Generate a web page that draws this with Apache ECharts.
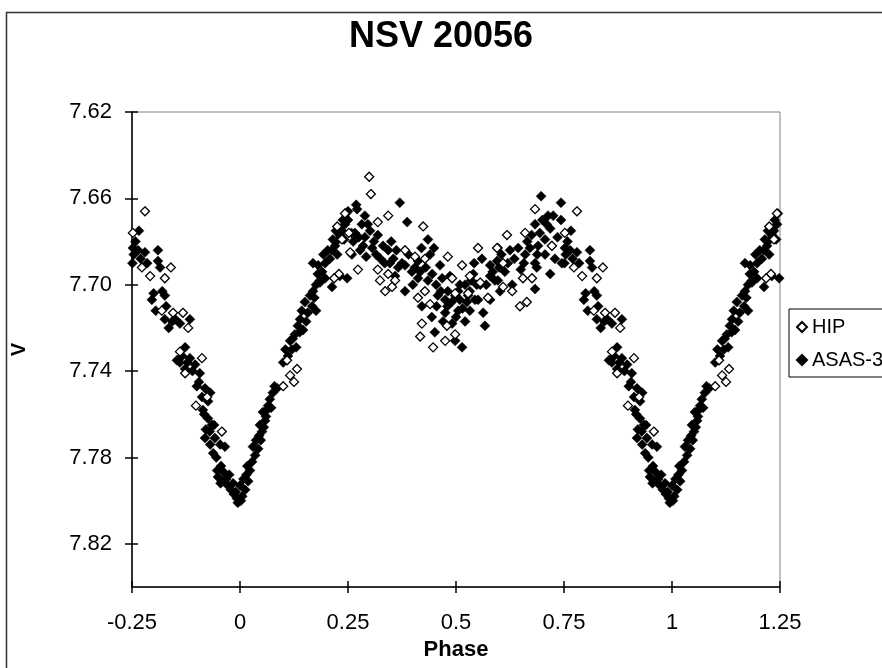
<!DOCTYPE html>
<html>
<head>
<meta charset="utf-8">
<script src="https://cdn.jsdelivr.net/npm/echarts@6/dist/echarts.min.js"></script>
<style>
html,body{margin:0;padding:0;background:#fff;}
#chart{width:882px;height:668px;}
</style>
</head>
<body>
<div id="chart"></div>
<script>
// ---- data (phase in [0,1), V magnitude) ----
const titleText = "NSV 20056";
const xTitle = "Phase";
const yTitle = "V";
const seriesNames = ["HIP", "ASAS-3"];
const xTicks = [-0.25, 0, 0.25, 0.5, 0.75, 1, 1.25];
const yTicks = [7.62, 7.66, 7.70, 7.74, 7.78, 7.82];

const hipPhase = [0.780,0.752,0.773,0.792,0.826,0.840,0.819,0.845,0.868,0.880,0.861,0.873,0.912,0.924,0.898,0.958,
  0.100,0.116,0.125,0.132,0.109,0.243,0.225,0.252,0.236,0.255,0.229,0.218,
  0.299,0.303,0.343,0.319,0.424,0.382,0.405,0.428,0.481,0.273,0.319,0.324,0.352,0.359,0.343,0.336,0.428,0.412,0.440,0.491,0.498,
  0.421,0.417,0.447,0.475,0.479,0.498,0.528,0.574,0.551,0.595,0.556,0.609,0.630,0.655,0.676,0.609,0.722,0.618,0.660,0.683,0.648,0.664,0.514,0.532];
const hipV = [7.666,7.676,7.692,7.696,7.697,7.692,7.712,7.713,7.713,7.720,7.731,7.741,7.734,7.752,7.756,7.768,
  7.747,7.742,7.745,7.739,7.735,7.667,7.673,7.676,7.679,7.685,7.695,7.697,
  7.650,7.658,7.668,7.671,7.673,7.684,7.687,7.688,7.687,7.693,7.693,7.698,7.701,7.698,7.695,7.703,7.703,7.706,7.709,7.697,7.704,
  7.718,7.724,7.729,7.726,7.719,7.723,7.704,7.706,7.683,7.683,7.699,7.701,7.703,7.697,7.697,7.690,7.682,7.677,7.676,7.665,7.710,7.708,7.691,7.696];

const asasPhase = [
  0.949,0.958,0.968,0.972,0.979,0.986,0.993,0.995,0.005,0.012,0.000,0.984,0.963,0.947,0.956,
  0.019,0.023,0.028,0.017,0.035,0.042,0.037,0.051,0.046,0.058,0.053,0.065,0.069,0.076,0.060,0.044,0.086,
  0.100,0.111,0.120,0.130,0.116,0.127,0.134,0.139,0.146,0.153,0.157,0.167,0.176,0.162,0.169,0.176,0.185,0.190,0.181,0.197,0.208,
  0.213,0.220,0.227,0.231,0.236,0.243,0.250,0.222,0.241,0.169,0.197,0.185,0.213,0.231,0.248,
  0.269,0.370,0.387,0.271,0.258,0.282,0.266,0.289,0.301,0.319,0.331,0.306,0.278,0.292,0.259,0.315,0.343,0.347,0.366,0.382,0.398,
  0.412,0.359,0.382,0.435,0.449,0.440,0.417,0.435,0.454,0.468,0.481,0.498,0.509,0.458,0.475,0.421,0.444,0.451,0.491,0.498,0.514,
  0.532,0.544,0.556,0.579,0.567,0.590,0.412,0.463,0.486,0.521,0.505,0.475,0.250,0.289,
  0.521,0.532,0.528,0.542,0.560,0.579,0.595,0.597,0.579,0.597,0.613,0.630,0.602,0.625,0.644,0.660,0.671,0.657,0.683,0.683,
  0.694,0.706,0.718,0.690,0.713,0.697,0.743,0.743,0.706,0.729,0.745,0.718,0.683,0.687,0.509,0.551,0.563,
  0.766,0.752,0.764,0.780,0.754,0.751,0.810,0.810,0.815,0.796,0.826,0.829,0.826,0.843,0.861,0.884,0.873,0.861,0.884,0.896,
  0.907,0.854,0.873,0.900,0.919,0.931,0.914,0.926,0.935,0.921,0.942,0.919,0.931,0.954,0.965,0.938,0.926,
  0.955,0.975,0.990,0.002,0.008,0.015,0.030,0.048,0.055,0.062,0.072,0.080,0.105,0.122,0.138,0.143,0.150,0.172,0.180,0.193,
  0.203,0.215,0.225,0.238,0.245,0.262,0.275,0.285,0.296,0.310,0.325,0.335,0.350,0.355,0.362,0.375,0.390,0.400,0.405,0.420,
  0.430,0.445,0.455,0.465,0.470,0.480,0.490,0.500,0.505,0.515,0.525,0.535,0.540,0.548,0.570,0.585,0.600,0.605,0.620,0.635,
  0.650,0.665,0.675,0.688,0.700,0.710,0.722,0.735,0.725,0.758,0.770,0.785,0.800,0.805,0.835,0.850,0.820,0.866,0.878,0.890,
  0.905,0.912,0.917,0.930,0.940,0.945];
const asasV = [
  7.789,7.791,7.790,7.793,7.795,7.797,7.799,7.801,7.798,7.795,7.793,7.792,7.787,7.786,7.784,
  7.791,7.786,7.782,7.784,7.779,7.776,7.772,7.768,7.765,7.763,7.759,7.756,7.753,7.750,7.761,7.770,7.748,
  7.736,7.733,7.730,7.729,7.726,7.723,7.719,7.716,7.721,7.717,7.713,7.710,7.712,7.705,7.703,7.700,7.698,7.694,7.691,7.690,7.688,
  7.684,7.682,7.679,7.677,7.675,7.672,7.670,7.675,7.679,7.690,7.697,7.699,7.701,7.696,7.697,
  7.663,7.662,7.671,7.665,7.676,7.672,7.676,7.678,7.675,7.677,7.682,7.683,7.684,7.687,7.686,7.686,7.684,7.690,7.692,7.691,7.694,
  7.697,7.696,7.703,7.679,7.683,7.686,7.694,7.698,7.700,7.697,7.703,7.705,7.707,7.705,7.707,7.710,7.715,7.722,7.718,7.726,7.729,
  7.703,7.707,7.700,7.707,7.719,7.698,7.689,7.691,7.696,7.700,7.712,7.713,7.666,7.668,
  7.717,7.712,7.705,7.690,7.688,7.691,7.689,7.683,7.696,7.698,7.694,7.700,7.703,7.684,7.683,7.686,7.683,7.690,7.690,7.672,
  7.676,7.679,7.674,7.682,7.668,7.659,7.662,7.670,7.686,7.688,7.690,7.695,7.702,7.692,7.700,7.707,7.713,
  7.675,7.683,7.684,7.685,7.686,7.690,7.684,7.689,7.692,7.707,7.705,7.710,7.716,7.717,7.718,7.716,7.729,7.736,7.734,7.737,
  7.741,7.735,7.739,7.747,7.748,7.750,7.758,7.762,7.765,7.767,7.771,7.771,7.774,7.774,7.775,7.778,7.754,
  7.792,7.788,7.796,7.800,7.790,7.788,7.775,7.772,7.766,7.758,7.757,7.747,7.730,7.725,7.722,7.712,7.708,7.706,7.695,7.686,
  7.684,7.679,7.686,7.670,7.667,7.680,7.678,7.682,7.672,7.680,7.688,7.690,7.680,7.688,7.684,7.690,7.686,7.700,7.692,7.683,
  7.692,7.695,7.710,7.703,7.717,7.710,7.708,7.715,7.703,7.711,7.708,7.698,7.695,7.700,7.700,7.694,7.692,7.686,7.690,7.688,
  7.693,7.680,7.677,7.686,7.670,7.672,7.682,7.678,7.668,7.680,7.688,7.690,7.704,7.712,7.720,7.716,7.703,7.733,7.736,7.740,
  7.745,7.752,7.760,7.768,7.765,7.780];

// phase-folded display over -0.25..1.25 (same observations repeated one cycle earlier/later)
function fold(phases, mags) {
  const out = [];
  phases.forEach((p, i) => {
    out.push([p, mags[i]]);
    if (p >= 0.75) out.push([+(p - 1).toFixed(3), mags[i]]);
    if (p < 0.25) out.push([+(p + 1).toFixed(3), mags[i]]);
  });
  return out;
}

const FONT = "Liberation Sans, Arial, sans-serif";
const chart = echarts.init(document.getElementById('chart'), null, {renderer: 'canvas'});
const gridBox = {left: 132, top: 112, width: 648, height: 475};

const option = {
  animation: false,
  backgroundColor: '#ffffff',
  title: {
    text: titleText, left: 'center', top: 19, padding: 0,
    textStyle: {fontFamily: FONT, fontWeight: 'bold', fontSize: 36, color: '#000'}
  },
  graphic: [{
    type: 'rect', left: 4, top: 10, z: -1,
    shape: {width: 1000, height: 1000},
    style: {fill: 'none', stroke: '#333', lineWidth: 1.5}
  }],
  legend: {
    data: seriesNames, orient: 'vertical', left: 789, top: 309,
    padding: [8, 8, 7, 7], itemGap: 13, itemWidth: 10, itemHeight: 10,
    borderColor: '#000', borderWidth: 1, backgroundColor: '#fff',
    textStyle: {fontFamily: FONT, fontSize: 20, color: '#000', lineHeight: 20},
    selectedMode: false
  },
  grid: Object.assign({show: true, borderColor: '#808080', borderWidth: 1, backgroundColor: '#fff'}, gridBox),
  xAxis: [{
    type: 'value', min: -0.25, max: 1.25, interval: 0.25,
    name: xTitle, nameLocation: 'middle', nameGap: 52,
    nameTextStyle: {fontFamily: FONT, fontWeight: 'bold', fontSize: 22, color: '#000'},
    axisLine: {show: true, onZero: false, lineStyle: {color: '#000', width: 1.5}},
    axisTick: {show: true, length: 6, lineStyle: {color: '#000', width: 1.5}, customValues: xTicks},
    axisLabel: {fontFamily: FONT, fontSize: 22, color: '#000', margin: 25, customValues: xTicks},
    splitLine: {show: false}
  }, {
    type: 'value', min: -0.25, max: 1.25, interval: 0.25, position: 'bottom',
    axisLine: {show: false, onZero: false}, axisLabel: {show: false}, splitLine: {show: false},
    axisTick: {show: true, inside: true, length: 6, lineStyle: {color: '#000', width: 1.5}, customValues: xTicks}
  }],
  yAxis: [{
    type: 'value', inverse: true, min: 7.62, max: 7.84,
    name: yTitle, nameLocation: 'middle', nameGap: 103,
    nameTextStyle: {fontFamily: FONT, fontWeight: 'bold', fontSize: 20, color: '#000'},
    axisLine: {show: true, onZero: false, lineStyle: {color: '#000', width: 1.5}},
    axisTick: {show: true, length: 7, lineStyle: {color: '#000', width: 1.5}, customValues: yTicks},
    axisLabel: {fontFamily: FONT, fontSize: 22, color: '#000', margin: 20, customValues: yTicks,
      formatter: v => v.toFixed(2)},
    splitLine: {show: false}
  }, {
    type: 'value', inverse: true, min: 7.62, max: 7.84, position: 'left', offset: 0,
    axisLine: {show: false, onZero: false}, axisLabel: {show: false}, splitLine: {show: false},
    axisTick: {show: true, inside: true, length: 6, lineStyle: {color: '#000', width: 1.5}, customValues: yTicks}
  }],
  series: [{
    name: seriesNames[0], type: 'scatter', z: 3,
    symbol: 'diamond', symbolSize: 9,
    itemStyle: {color: '#fff', borderColor: '#000', borderWidth: 1.3, opacity: 1},
    data: fold(hipPhase, hipV)
  }, {
    name: seriesNames[1], type: 'scatter', z: 2,
    symbol: 'diamond', symbolSize: 10,
    itemStyle: {color: '#000', borderColor: '#000', borderWidth: 0.5, opacity: 1},
    data: fold(asasPhase, asasV)
  }]
};
chart.setOption(option);
</script>
</body>
</html>
